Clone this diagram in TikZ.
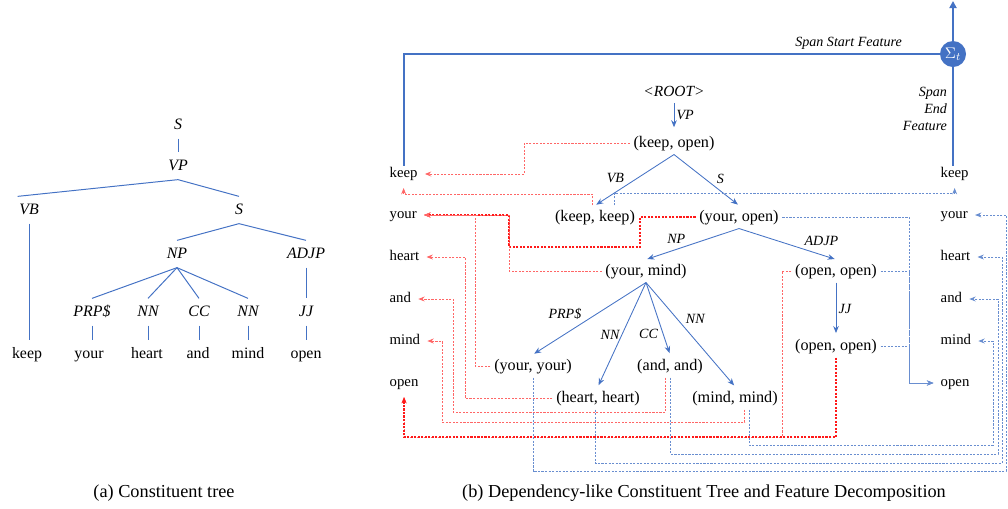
\documentclass[tikz,border=0pt]{standalone}
\usepackage{fontspec}
\setmainfont{Liberation Serif}
\usetikzlibrary{arrows.meta,positioning}
\definecolor{sblue}{HTML}{4472C4}
\definecolor{sred}{HTML}{FF0000}

\begin{document}
\begin{tikzpicture}[x=0.025cm, y=-0.025cm,
    cat/.style = {font=\fontsize{11.3}{13}\selectfont\itshape, text height=8pt, text depth=2pt, inner xsep=1pt, inner ysep=4.5pt},
    word/.style = {font=\fontsize{11.3}{13}\selectfont, text height=8pt, text depth=2pt, inner xsep=1pt, inner ysep=4.5pt},
    pair/.style = {font=\fontsize{11.5}{13}\selectfont, text height=8.5pt, text depth=2.5pt, inner sep=2.5pt},
    lab/.style = {font=\fontsize{10}{12}\selectfont\itshape, text=black, inner sep=1.5pt},
    tok/.style = {font=\fontsize{10.5}{12}\selectfont, text height=7.5pt, text depth=2pt, inner sep=1pt, anchor=west},
    subcap/.style = {font=\fontsize{13}{15}\selectfont},
    branch/.style = {sblue, line width=0.7pt},
    dep/.style = {sblue, line width=0.6pt, -{Stealth[length=5pt, width=4pt]}, shorten >=1pt},
    sumline/.style = {sblue, line width=1.6pt},
    spanstart/.style = {sred!60, line width=0.6pt, dash pattern=on 1.5pt off 1pt, -{Stealth[length=4.5pt, width=3.5pt]}, shorten >=4pt},
    spanstartb/.style = {spanstart, sred!90, line width=0.9pt},
    spanend/.style = {sblue!80, line width=0.6pt, dash pattern=on 1.5pt off 1pt, -{Stealth[length=4.5pt, width=3.5pt]}, shorten >=4pt}]
  \useasboundingbox (0,0) rectangle (1008,508);

  % (a) constituent tree
  \node[cat] (s) at (178,125) {S};
  \node[cat] (vp) at (178,166) {VP};
  \node[cat] (vb) at (29,210) {VB};
  \node[cat] (s2) at (239,210) {S};
  \node[cat] (np) at (177,254) {NP};
  \node[cat] (adjp) at (306,254) {ADJP};
  \node[cat] (prp) at (92,312) {PRP\$};
  \node[cat] (nn1) at (148,312) {NN};
  \node[cat] (cc) at (199,312) {CC};
  \node[cat] (nn2) at (248,312) {NN};
  \node[cat] (jj) at (306,312) {JJ};
  \node[word] (w1) at (27,354) {keep};
  \node[word] (w2) at (89,354) {your};
  \node[word] (w3) at (147,354) {heart};
  \node[word] (w4) at (198,354) {and};
  \node[word] (w5) at (248,354) {mind};
  \node[word] (w6) at (306,354) {open};
  \draw[branch] (s) -- (vp);
  \draw[branch] (vp.south) -- (vb.north west);
  \draw[branch] (vp.south) -- (s2.north);
  \draw[branch] (s2.south) -- (np.north);
  \draw[branch] (s2.south) -- (adjp.north);
  \foreach \c in {prp,nn1,cc,nn2}
    \draw[branch] (np.south) -- (\c.north);
  \draw[branch] (adjp) -- (jj);
  \foreach \c/\w in {vb/w1,prp/w2,nn1/w3,cc/w4,nn2/w5,jj/w6}
    \draw[branch] (\c) -- (\c |- \w.north);

  % (b) dependency-like tree
  \node[lab, font=\fontsize{11}{13}\selectfont\itshape] (root) at (674,91) {<ROOT>};
  \node[pair] (ko) at (674,143) {(keep, open)};
  \node[pair] (kk) at (595,217) {(keep, keep)};
  \node[pair] (yo) at (739,217) {(your, open)};
  \node[pair] (ym) at (646,271) {(your, mind)};
  \node[pair] (oo) at (836,271) {(open, open)};
  \node[pair] (oo2) at (836,346) {(open, open)};
  \node[pair] (yy) at (533,366) {(your, your)};
  \node[pair] (aa) at (670,366) {(and, and)};
  \node[pair] (hh) at (598,398) {(heart, heart)};
  \node[pair] (mm) at (735,398) {(mind, mind)};
  \foreach \w/\y/\n in {keep/174/k, your/215/y, heart/257/h, and/299/a, mind/341/m, open/383/o} {
    \node[tok] (l\n) at (388,\y) {\w};
    \node[tok] (r\n) at (939,\y) {\w};
  }

  \draw[dep, shorten <=3pt, shorten >=3pt] (root) -- node[lab, midway, right] {VP} (ko);
  \draw[dep] (ko.south) -- node[lab, pos=0.6, above left] {VB} (kk.north);
  \draw[dep] (ko.south) -- node[lab, pos=0.62, above right] {S} (yo.north);
  \draw[dep] (yo.south) -- node[lab, pos=0.55, above left] {NP} (ym.north);
  \draw[dep] (yo.south) -- node[lab, pos=0.65, above right] {ADJP} (oo.north);
  \draw[dep] (oo) -- node[lab, midway, right] {JJ} (oo2);
  \draw[dep] (ym.south) -- node[lab, pos=0.55, above left] {PRP\$} (yy.north);
  \draw[dep] (ym.south) -- node[lab, pos=0.5, left] {NN} (hh.north);
  \draw[dep] (ym.south) -- node[lab, pos=0.72, left=2pt] {CC} (aa.north);
  \draw[dep] (ym.south) -- node[lab, pos=0.42, above right] {NN} (mm.north);

  % span features
  \node[circle, fill=sblue, text=white, minimum size=0.65cm, inner sep=0pt, font=\fontsize{11}{13}\selectfont] (sum) at (953,54) {$\Sigma_t$};
  \coordinate (out) at (953,1);
  \draw[sumline] (lk.north) |- node[lab, pos=0.915, above=1pt] {Span Start Feature} (sum.west);
  \draw[sumline] (sum.south |- rk.north) -- node[lab, pos=0.58, left=2pt, align=right] {Span\\End\\Feature} (sum.south);
  \draw[sumline, -{Triangle[length=5pt, width=5pt]}] (sum.north) -- (out);

  \draw[spanstart] (ko.west) -- (524,143) -- (524,174) -- (lk.east);
  \draw[spanstart] ([xshift=-2pt]kk.north) |- (450,194) -| (lk.south);
  \draw[spanstartb] (yo.west) -- (640,217) -- (640,247) -- (509,247) -- (509,215) -- (ly.east);
  \draw[spanstart] (ym.west) -- (509,271) -- (509,215) -- (ly.east);
  \draw[spanstart] (yy.west) -- (475,366) -- (475,215) -- (ly.east);
  \draw[spanstart] (hh.west) -- (465,398) -- (465,257) -- (lh.east);
  \draw[spanstart] ([xshift=-3pt]aa.south) |- (453,412) |- (la.east);
  \draw[spanstart] ([xshift=7pt]mm.south) |- (442,422) |- (lm.east);
  \draw[spanstart] (oo.west) -| (782,437) -| (lo.south);
  \draw[spanstartb] (oo2.south) |- (500,437) -| (lo.south);

  \draw[spanend] ([xshift=14pt]kk.north) |- (700,193) -| (rk.south);
  \draw[spanend] (yy.south) |- (1006,471) |- (ry.east);
  \draw[spanend] ([xshift=-2pt]hh.south) |- (1002,463) |- (rh.east);
  \draw[spanend] (aa.south) |- (998,454) |- (ra.east);
  \draw[spanend] ([xshift=10pt]mm.south) |- (993,445) |- (rm.east);
  \draw[spanend] (yo.east) -| (909,383) -- (ro.west);
  \draw[spanend] (oo.east) -| (909,383) -- (ro.west);
  \draw[spanend] (oo2.east) -| (909,383) -- (ro.west);

  \node[subcap] (capa) at (164,493) {(a) Constituent tree};
  \node[subcap] (capb) at (704,493) {(b) Dependency-like Constituent Tree and Feature Decomposition};
\end{tikzpicture}
\end{document}
